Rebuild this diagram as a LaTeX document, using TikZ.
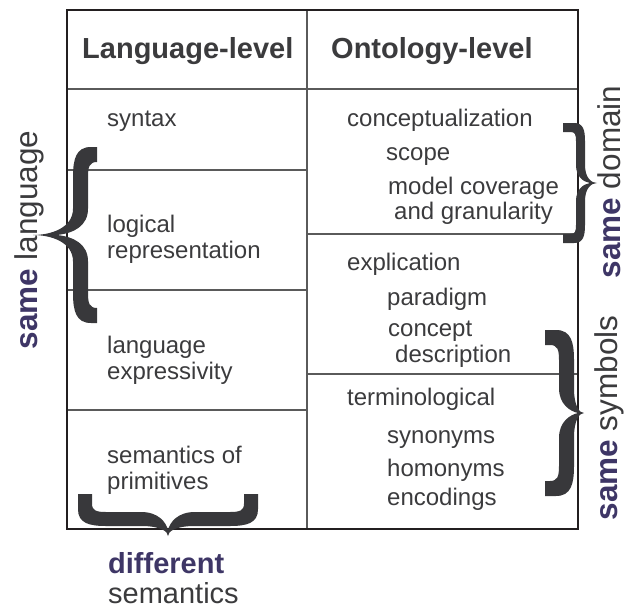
\documentclass[tikz,border=0pt]{standalone}
\usepackage{fontspec}
\setmainfont{Liberation Sans}
\definecolor{txtgray}{HTML}{3B3B3D}
\definecolor{samepurple}{HTML}{3E3666}
\definecolor{bracegray}{HTML}{38383B}
\definecolor{linegray}{HTML}{5A5A5A}
\definecolor{framegray}{HTML}{231F20}
\tikzset{
  cell/.style={anchor=base west, inner sep=0pt, text=txtgray, font=\fontsize{24}{26}\selectfont},
  head/.style={anchor=base west, inner sep=0pt, text=txtgray, font=\fontsize{29}{31}\selectfont\bfseries},
  side/.style={rotate=90, anchor=base, inner sep=0pt, text=txtgray, font=\fontsize{31.5}{33}\selectfont},
  below/.style={anchor=base west, inner sep=0pt, text=txtgray, font=\fontsize{29}{31}\selectfont},
  pics/fatbrace/.style n args={4}{code={
    \fill[bracegray] (#3,-#1) -- ({#2+1.2*#4},-#1)
      .. controls ({#2+0.2*#4},-#1) and (#2,{-#1+0.8*#4}) .. (#2,{-#1+2*#4})
      -- (#2,{-0.3*#1})
      .. controls (#2,{-0.08*#1}) and ({0.45*#2},0) .. (0,0)
      .. controls ({0.45*#2},0) and (#2,{0.08*#1}) .. (#2,{0.3*#1})
      -- (#2,{#1-2*#4})
      .. controls (#2,{#1-0.8*#4}) and ({#2+0.2*#4},#1) .. ({#2+1.2*#4},#1)
      -- (#3,#1) -- (#3,{#1-#4}) -- ({#2+1.6*#4},{#1-#4})
      .. controls ({#2+1.1*#4},{#1-#4}) and ({#2+#4},{#1-1.3*#4}) .. ({#2+#4},{#1-2*#4})
      -- ({#2+#4},{0.3*#1})
      .. controls ({#2+#4},{0.1*#1}) and ({0.9*#2+0.3*#4},{0.02*#1}) .. ({0.6*#2},0)
      .. controls ({0.9*#2+0.3*#4},{-0.02*#1}) and ({#2+#4},{-0.1*#1}) .. ({#2+#4},{-0.3*#1})
      -- ({#2+#4},{-#1+2*#4})
      .. controls ({#2+#4},{-#1+1.3*#4}) and ({#2+1.1*#4},{-#1+#4}) .. ({#2+1.6*#4},{-#1+#4})
      -- (#3,{-#1+#4}) -- cycle;
  }}
}
\begin{document}
\begin{tikzpicture}[x=1pt,y=-1pt]
\useasboundingbox (0,0) rectangle (626,610);

% table
\draw[linegray, line width=1.3pt] (67,89) -- (578,89);
\draw[linegray, line width=1.3pt] (307,10) -- (307,529);
\draw[linegray, line width=1.3pt] (67,170) -- (307,170);
\draw[linegray, line width=1.3pt] (67,290) -- (307,290);
\draw[linegray, line width=1.3pt] (67,410) -- (307,410);
\draw[linegray, line width=1.3pt] (307,234) -- (578,234);
\draw[linegray, line width=1.3pt] (307,374) -- (578,374);
\draw[framegray, line width=2pt] (67,10) rectangle (578,529);

% braces
\pic at (33,235) {fatbrace={88}{40}{64}{15}};
\pic[rotate=180] at (597,183) {fatbrace={60}{12}{34}{9}};
\pic[rotate=180] at (584,413) {fatbrace={83}{10}{39}{15}};
\pic[rotate=90] at (168,536) {fatbrace={90}{10}{42}{14}};

\node[head] (langlevel) at (82,59) {Language-level};
\node[head] (ontolevel) at (331,59) {Ontology-level};

\node[cell] (syntax) at (107,126) {syntax};
\node[cell] (logical) at (107,232) {logical};
\node[cell] (repres) at (107,258) {representation};
\node[cell] (language) at (107,353) {language};
\node[cell] (express) at (107,379) {expressivity};
\node[cell] (semof) at (107,463) {semantics of};
\node[cell] (prims) at (107,489) {primitives};

\node[cell] (concept) at (347,126) {conceptualization};
\node[cell] (scope) at (386,160) {scope};
\node[cell] (modelcov) at (388,194) {model coverage};
\node[cell] (granul) at (394,219) {and granularity};
\node[cell] (explic) at (347,270) {explication};
\node[cell] (paradigm) at (387,305) {paradigm};
\node[cell] (conc) at (388,336) {concept};
\node[cell] (descr) at (395,362) {description};
\node[cell] (termin) at (347,405) {terminological};
\node[cell] (synon) at (387,443) {synonyms};
\node[cell] (homon) at (387,476) {homonyms};
\node[cell] (encod) at (387,505) {encodings};

\node[side] (samelang) at (37,240) {{\color{samepurple}\bfseries same} language};
\node[side] (samedom) at (620,182) {{\color{samepurple}\bfseries same} domain};
\node[side] (samesym) at (617,418) {{\color{samepurple}\bfseries same} symbols};

\node[below, text=samepurple, font=\fontsize{29}{31}\selectfont\bfseries] (differ) at (108,573) {different};
\node[below] (semant) at (108,603) {semantics};
\end{tikzpicture}
\end{document}
